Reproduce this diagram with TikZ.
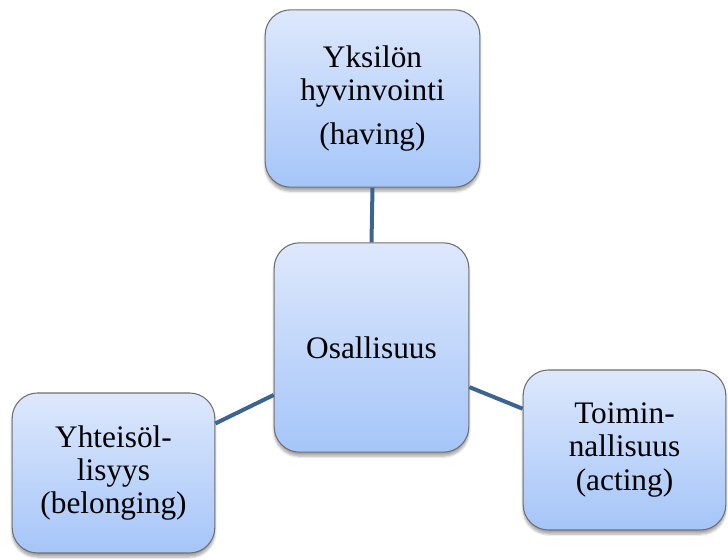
\documentclass[tikz,border=0pt]{standalone}
\usepackage{fontspec}
\setmainfont{Liberation Serif}
\newfontfamily\conceptfont{Liberation Serif}
\usetikzlibrary{shadows.blur}
\definecolor{boxtop}{HTML}{DDE8FC}
\definecolor{boxbottom}{HTML}{A5C5F8}
\definecolor{boxedge}{HTML}{707070}
\definecolor{linkblue}{HTML}{3B6590}
\tikzset{
  concept/.style={draw=boxedge, line width=0.8pt, rounded corners=19pt,
    top color=boxtop, bottom color=boxbottom, align=center,
    inner sep=0pt, font=\conceptfont\fontsize{23.5}{25}\selectfont,
    blur shadow={shadow xshift=0pt, shadow yshift=-3pt,
      shadow blur steps=6, shadow opacity=35}},
  link/.style={draw=linkblue, line width=3pt}
}
\begin{document}
\begin{tikzpicture}[x=0.75pt, y=-0.75pt]
  \useasboundingbox (0,0) rectangle (728,559);
  % concept boxes
  \node[concept, minimum width=161pt, minimum height=133pt] (having) at (372.5,98.5)
    {Yksilön\\hyvinvointi\\[8pt](having)};
  \node[concept, minimum width=146pt, minimum height=157pt] (osallisuus) at (371.5,347.5)
    {Osallisuus};
  \node[concept, minimum width=152pt, minimum height=120pt] (belonging) at (113.5,473)
    {Yhteisöl-\\lisyys\\(belonging)};
  \node[concept, minimum width=152pt, minimum height=120pt] (acting) at (624.5,450)
    {Toimin-\\nallisuus\\(acting)};
  % connectors between the central concept and the three dimensions
  \draw[link] (having.south) -- (osallisuus.north);
  \draw[link] (belonging) -- (osallisuus);
  \draw[link] (acting) -- (osallisuus);
\end{tikzpicture}
\end{document}
